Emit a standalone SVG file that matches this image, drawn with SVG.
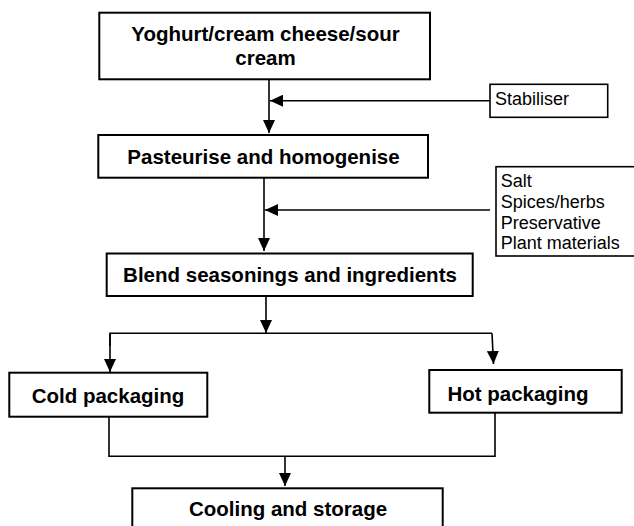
<svg xmlns="http://www.w3.org/2000/svg" width="634" height="526" viewBox="0 0 634 526">
<defs>
<marker id="ah" markerUnits="userSpaceOnUse" markerWidth="13" markerHeight="12" refX="13" refY="6" orient="auto">
<path d="M0,0 L13,6 L0,12 z" fill="#000"/>
</marker>
<style>
.box{fill:#fff;stroke:#000;stroke-width:2}
.ibox{fill:#fff;stroke:#000;stroke-width:1.6}
.t{font-family:"Liberation Sans",Arial,sans-serif;font-weight:bold;font-size:20.5px;fill:#000;text-anchor:middle}
.r{font-family:"Liberation Sans",Arial,sans-serif;font-size:18px;fill:#000}
.c{fill:none;stroke:#000;stroke-width:1.6}
</style>
</defs>
<rect width="634" height="526" fill="#fff"/>
<g id="connectors">
<line class="c" x1="269" y1="80" x2="269" y2="133" marker-end="url(#ah)"/>
<line class="c" x1="490" y1="100.7" x2="270" y2="100.7" marker-end="url(#ah)"/>
<line class="c" x1="264" y1="178" x2="264" y2="251" marker-end="url(#ah)"/>
<line class="c" x1="490" y1="210" x2="265" y2="210" marker-end="url(#ah)"/>
<line class="c" x1="266" y1="296" x2="266" y2="333" marker-end="url(#ah)"/>
<polyline class="c" points="110,346 110,333.3 492,333.3"/>
<line class="c" x1="110" y1="333.3" x2="110" y2="372" marker-end="url(#ah)"/>
<line class="c" x1="492" y1="333.3" x2="493.5" y2="364" marker-end="url(#ah)"/>
<polyline class="c" points="109,417 109,456.3 495,456.3 495,413"/>
<line class="c" x1="285" y1="456.3" x2="285" y2="486" marker-end="url(#ah)"/>
</g>
<g id="n-yoghurt">
<rect class="box" x="99.3" y="12.7" width="330.7" height="66.6"/>
<text class="t" x="265.5" y="40.7">Yoghurt/cream cheese/sour</text>
<text class="t" x="265.5" y="64.5">cream</text>
</g>
<g id="n-stabiliser">
<rect class="ibox" x="490" y="84.3" width="117.7" height="33"/>
<text class="r" x="495" y="105">Stabiliser</text>
</g>
<g id="n-pasteurise">
<rect class="box" x="98.3" y="135" width="329.7" height="42.7"/>
<text class="t" x="263.5" y="164">Pasteurise and homogenise</text>
</g>
<g id="n-ingredients">
<rect class="ibox" x="496" y="166.7" width="145" height="89.3"/>
<text class="r" x="500.7" y="187">Salt</text>
<text class="r" x="500.7" y="208">Spices/herbs</text>
<text class="r" x="500.7" y="228.5">Preservative</text>
<text class="r" x="500.7" y="249">Plant materials</text>
</g>
<g id="n-blend">
<rect class="box" x="106.7" y="253.5" width="366" height="42.5"/>
<text class="t" x="290" y="281.7">Blend seasonings and ingredients</text>
</g>
<g id="n-cold">
<rect class="box" x="9.3" y="372.7" width="198" height="44"/>
<text class="t" x="108" y="403.3">Cold packaging</text>
</g>
<g id="n-hot">
<rect class="box" x="429.3" y="370" width="192.4" height="42.7"/>
<text class="t" x="518" y="400.7">Hot packaging</text>
</g>
<g id="n-cooling">
<rect class="box" x="132.3" y="488.3" width="310.4" height="42"/>
<text class="t" x="288" y="516">Cooling and storage</text>
</g>
</svg>
